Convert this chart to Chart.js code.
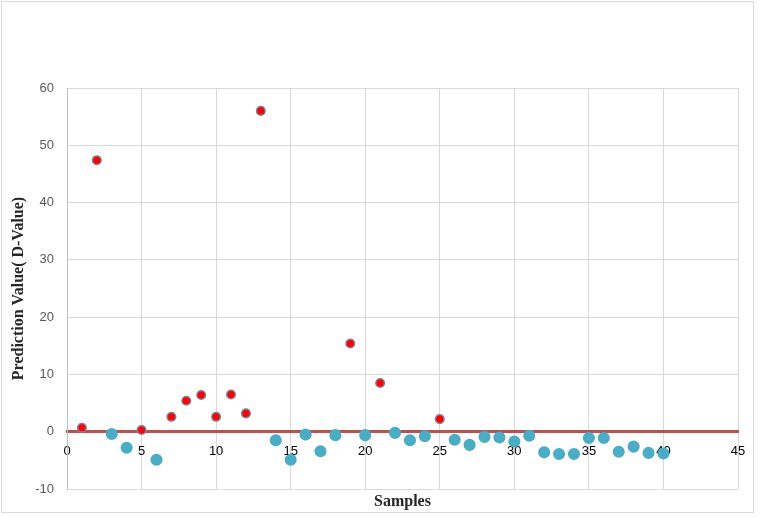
<!DOCTYPE html>
<html>
<head>
<meta charset="utf-8">
<script src="https://cdn.jsdelivr.net/npm/chart.js@4/dist/chart.umd.min.js"></script>
<style>
  body { margin: 0; background: #fff; }
  #wrap { position: relative; width: 761px; height: 517px; }
  #frame { position: absolute; left: 1px; top: 1px; width: 753px; height: 512px; border: 1px solid #d9d9d9; box-sizing: border-box; pointer-events: none; }
</style>
</head>
<body>
<div id="wrap">
  <canvas id="grafico" width="761" height="517"></canvas>
  <div id="frame"></div>
</div>
<script>
// Datos
const muestras = [1, 2, 3, 4, 5, 6, 7, 8, 9, 10, 11, 12, 13, 14, 15, 16, 17, 18, 19, 20,
                  21, 22, 23, 24, 25, 26, 27, 28, 29, 30, 31, 32, 33, 34, 35, 36, 37, 38, 39, 40];
const valoresD = [0.7, 47.4, -0.4, -2.8, 0.3, -4.9, 2.6, 5.4, 6.4, 2.6, 6.5, 3.2, 56.0, -1.5, -4.9, -0.5, -3.4, -0.6, 15.4, -0.6,
                  8.5, -0.2, -1.5, -0.8, 2.2, -1.4, -2.3, -0.9, -1.0, -1.7, -0.7, -3.6, -3.9, -3.9, -1.1, -1.1, -3.5, -2.6, -3.7, -3.8];
const ticksX = [0, 5, 10, 15, 20, 25, 30, 35, 40, 45];
const ticksY = [-10, 0, 10, 20, 30, 40, 50, 60];

// Colores: rojo para valores positivos, azul para negativos
const colorRelleno = valoresD.map(v => v > 0 ? '#ff0000' : '#4bacc6');
const colorBorde = valoresD.map(v => v > 0 ? '#7f7f9c' : '#4bacc6');
const radios = valoresD.map(v => v > 0 ? 4.3 : 5.3);

const ctx = document.getElementById('grafico').getContext('2d');

new Chart(ctx, {
    type: 'scatter',
    data: {
        datasets: [{
            label: 'D-Value',
            data: muestras.map((m, i) => ({ x: m, y: valoresD[i] })),
            backgroundColor: colorRelleno,
            borderColor: colorBorde,
            borderWidth: 1.5,
            pointRadius: radios,
            pointHoverRadius: radios
        }]
    },
    options: {
        responsive: false,
        animation: false,
        layout: { padding: { top: 88, right: 23, bottom: 0, left: 0 } },
        plugins: {
            legend: { display: false },
            tooltip: { enabled: false }
        },
        scales: {
            x: {
                type: 'linear',
                min: 0,
                max: 45,
                position: { y: 0 },  // el eje cruza en y = 0
                afterBuildTicks: s => { s.ticks = ticksX.map(v => ({ value: v })); },
                grid: { color: '#d9d9d9', lineWidth: 1, drawTicks: false },
                border: { color: '#c0504d', width: 3 },
                ticks: {
                    color: '#000',
                    font: { family: 'Liberation Sans', size: 13 },
                    padding: 12,
                    maxRotation: 0
                }
            },
            x2: {
                type: 'linear',
                position: 'bottom',
                min: 0,
                max: 45,
                afterFit: s => { s.height = 28; },
                grid: { display: false, drawTicks: false },
                border: { display: false },
                ticks: { display: false },
                title: {
                    display: true,
                    text: 'Samples',
                    color: '#262626',
                    font: { family: 'Liberation Serif', size: 16, weight: 'bold' },
                    padding: { top: 0, bottom: 6 }
                }
            },
            y: {
                min: -10,
                max: 60,
                afterBuildTicks: s => { s.ticks = ticksY.map(v => ({ value: v })); },
                afterFit: s => { s.width = 67; },
                grid: { color: '#d9d9d9', lineWidth: 1, drawTicks: false },
                border: { color: '#bfbfbf', width: 1 },
                ticks: {
                    color: '#595959',
                    font: { family: 'Liberation Sans', size: 13 },
                    padding: 13
                },
                title: {
                    display: true,
                    text: 'Prediction Value( D-Value)',
                    color: '#262626',
                    font: { family: 'Liberation Serif', size: 16, weight: 'bold' },
                    padding: { top: 9, bottom: 0 }
                }
            }
        }
    }
});
</script>
</body>
</html>
